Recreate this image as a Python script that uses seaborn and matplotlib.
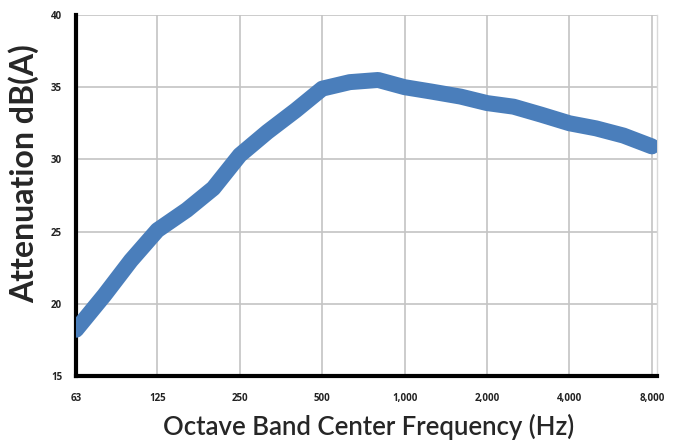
import numpy as np
import pandas as pd
import matplotlib
matplotlib.use("Agg")
import matplotlib.pyplot as plt
import seaborn as sns

# 1/3 octave band centres (Hz) and attenuation
freqs = [63, 80, 100, 125, 160, 200, 250, 315, 400, 500, 630,
         800, 1000, 1250, 1600, 2000, 2500, 3150, 4000, 5000, 6300, 8000]
atten = [18.2, 20.6, 23.0, 25.1, 26.5, 28.0, 30.3, 31.9, 33.4, 34.9, 35.35,
         35.5, 35.0, 34.7, 34.35, 33.9, 33.65, 33.1, 32.5, 32.15, 31.65, 30.9]

# octave labels shown on the axis
octave_ticks = [63, 125, 250, 500, 1000, 2000, 4000, 8000]
octave_labels = ["63", "125", "250", "500", "1,000", "2,000", "4,000", "8,000"]

df = pd.DataFrame({"freq": freqs, "atten": atten})

sns.set_style("white")
plt.rcParams["font.family"] = ["Open Sans", "DejaVu Sans"]

fig = plt.figure(figsize=(6.78, 4.41), dpi=100)
ax = fig.add_axes([0.1121, 0.1474, 0.969 - 0.1121, 0.966 - 0.1474])

sns.lineplot(data=df, x="freq", y="atten", ax=ax, color="#4a7ebb",
             linewidth=11.5, solid_capstyle="round", solid_joinstyle="round",
             zorder=3)

ax.set_xscale("log", base=2)
ax.set_xlim(63, 8350)
ax.set_ylim(15, 40)
ax.set_xticks(octave_ticks)
ax.set_xticklabels(octave_labels)
ax.xaxis.set_minor_locator(matplotlib.ticker.NullLocator())
ax.set_yticks([15, 20, 25, 30, 35, 40])

ax.grid(True, color="#c4c4c4", linewidth=1.2)
ax.set_axisbelow(True)

for side in ["left", "bottom"]:
    ax.spines[side].set_color("black")
    ax.spines[side].set_linewidth(3)
ax.spines["top"].set_visible(False)
ax.spines["right"].set_color("#d9d9d9")
ax.spines["right"].set_linewidth(1)

ax.tick_params(axis="both", length=0, labelsize=7, labelcolor="#222222")
for lab in ax.get_xticklabels() + ax.get_yticklabels():
    lab.set_fontweight("bold")
ax.tick_params(axis="x", pad=12)
ax.tick_params(axis="y", pad=10)

ax.set_xlabel("Octave Band Center Frequency (Hz)", fontsize=18.5,
              fontweight="semibold", family=["Lato", "DejaVu Sans"])
ax.set_ylabel("Attenuation dB(A)", fontsize=23, fontweight="bold",
              family=["Lato", "DejaVu Sans"])
ax.xaxis.set_label_coords(0.503, -0.105)
ax.yaxis.set_label_coords(-0.063, 0.56)

fig.savefig("out.png", dpi=100)
